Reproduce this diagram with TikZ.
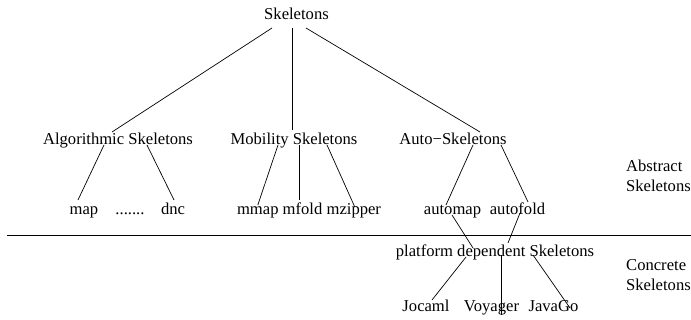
\documentclass[tikz,border=0pt]{standalone}
\usepackage{fontspec}
\setmainfont{Liberation Serif}
\usepackage{tikz}

\tikzset{
  lbl/.style={inner sep=0pt, anchor=base, font=\fontsize{16.6}{20}\selectfont},
  side/.style={inner sep=0pt, anchor=base west, align=left, font=\fontsize{16.6}{20}\selectfont},
  ramo/.style={line width=0.7pt}
}

\begin{document}
\begin{tikzpicture}[x=1pt, y=-1pt]
    \useasboundingbox (0,0) rectangle (691,320);

    % Radice
    \node[lbl] (root) at (296.5,20) {Skeletons};

    % Livello 1
    \node[lbl] (alg)  at (118,145) {Algorithmic Skeletons};
    \node[lbl] (mob)  at (294,145) {Mobility Skeletons};
    \node[lbl] (auto) at (453,145) {Auto−Skeletons};

    % Livello 2
    \node[lbl] (map)     at (84,215)    {map};
    \node[lbl] (dots)    at (130,215)   {.......};
    \node[lbl] (dnc)     at (173,215)   {dnc};
    \node[lbl] (mmap)    at (257.8,215) {mmap};
    \node[lbl] (mfold)   at (302.5,215) {mfold};
    \node[lbl] (mzipper) at (353.8,215) {mzipper};
    \node[lbl] (automap)  at (452.5,215) {automap};
    \node[lbl] (autofold) at (517.5,215) {autofold};

    % Livello concreto
    \node[lbl] (platform) at (495,257)   {platform dependent Skeletons};
    \node[lbl] (jocaml)   at (426,312)   {Jocaml};
    \node[lbl] (voyager)  at (491.5,312) {Voyager};
    \node[lbl] (javago)   at (553.5,312) {JavaGo};

    % Etichette a destra
    \node[side] (abstract) at (626,192) {Abstract\\Skeletons};
    \node[side] (concrete) at (626,291) {Concrete\\Skeletons};

    % Separatore
    \coordinate (sepL) at (7,235);
    \coordinate (sepR) at (691,235);
    \draw[ramo] (sepL) -- (sepR);

    % Rami dalla radice
    \draw[ramo] ([shift={(-24.5,8)}]root.base) -- ([shift={(-6,-13)}]alg.base);
    \draw[ramo] ([shift={(-4.5,8)}]root.base) -- ([shift={(-2,-15)}]mob.base);
    \draw[ramo] ([shift={(9.5,8)}]root.base) -- ([shift={(27,-13)}]auto.base);

    % Rami del livello 1
    \draw[ramo] ([shift={(-14,0)}]alg.base) -- ([shift={(-6,-15)}]map.base);
    \draw[ramo] ([shift={(29,0)}]alg.base) -- ([shift={(1,-15)}]dnc.base);
    \draw[ramo] ([shift={(-16,0)}]mob.base) -- ([shift={(0,-10)}]mmap.base);
    \draw[ramo] ([shift={(5,0)}]mob.base) -- ([shift={(-3.5,-15)}]mfold.base);
    \draw[ramo] ([shift={(33,0)}]mob.base) -- ([shift={(1,-8)}]mzipper.base);
    \draw[ramo] ([shift={(20,0)}]auto.base) -- ([shift={(-6.5,-10)}]automap.base);
    \draw[ramo] ([shift={(48,0)}]auto.base) -- ([shift={(10.5,-13)}]autofold.base);

    % Verso il livello concreto
    \draw[ramo] ([shift={(-0.5,0)}]automap.base) -- ([shift={(-22,-9)}]platform.base);
    \draw[ramo] ([shift={(2.5,-2)}]autofold.base) -- ([shift={(13,-14)}]platform.base);
    \draw[ramo] ([shift={(-29,0)}]platform.base) -- ([shift={(6,-12)}]jocaml.base);
    \draw[ramo] ([shift={(6,-2)}]platform.base) -- ([shift={(9.5,3)}]voyager.base);
    \draw[ramo] ([shift={(38,-2)}]platform.base) -- ([shift={(16.5,-4)}]javago.base);
\end{tikzpicture}
\end{document}
